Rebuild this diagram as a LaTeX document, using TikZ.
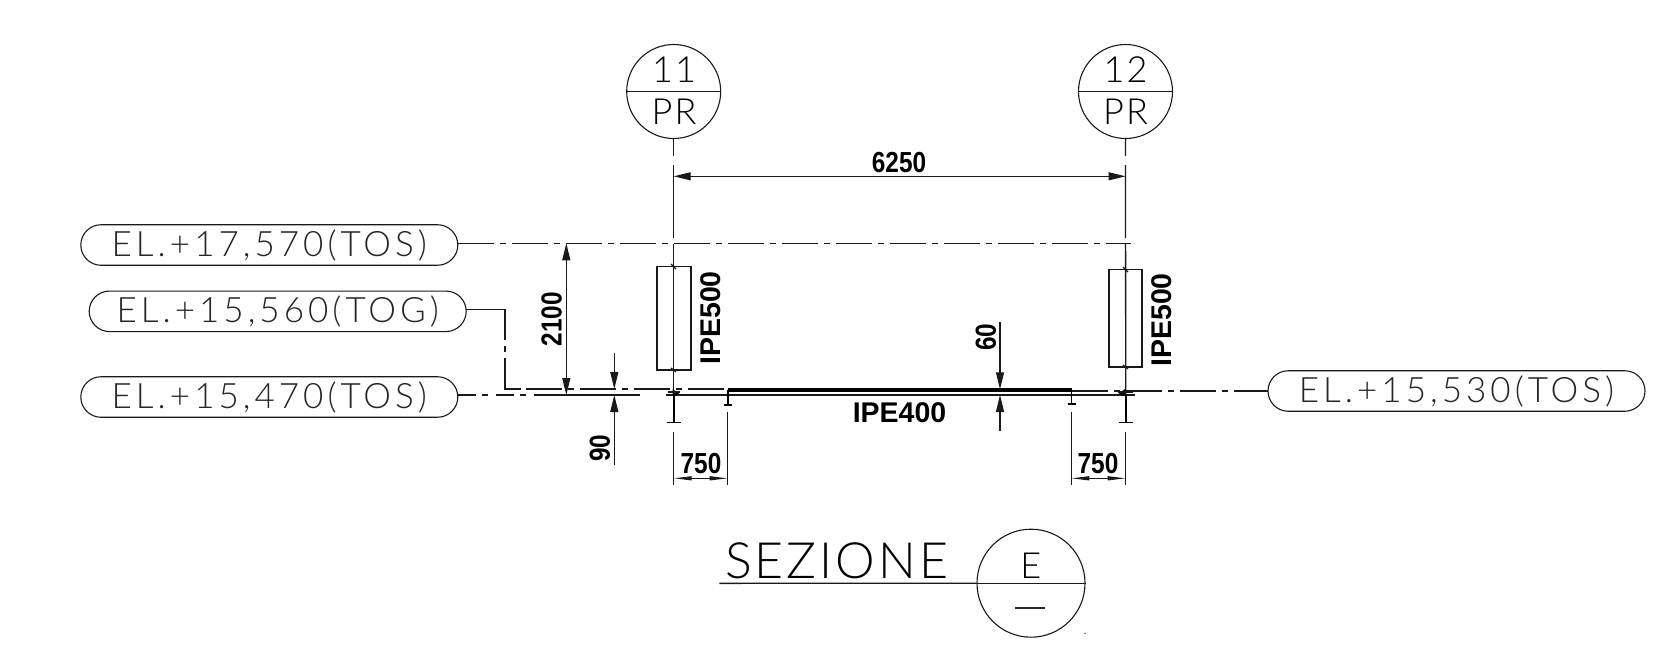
\documentclass[tikz,border=0pt]{standalone}
\usepackage{fontspec}
\usetikzlibrary{arrows.meta,shapes.misc}
\setmainfont{Liberation Sans}
\newfontfamily\thinf[LetterSpace=6]{Lato Light}
\newfontfamily\thinw[LetterSpace=11.5]{Lato Light}
\newfontfamily\boldf{Liberation Sans Bold}
\newcommand{\dimtxt}[1]{\scalebox{0.84}[1]{\fontsize{29}{29}\boldf #1}}
\newcommand{\proftxt}[1]{\scalebox{1.0}[1]{\fontsize{28.5}{28.5}\boldf #1}}
\tikzset{
  ln/.style={line width=1.1pt,color=black!90},
  pill/.style={ln,draw,rounded rectangle,rounded rectangle arc length=180,minimum width=377pt,minimum height=40.5pt,inner sep=0pt,text=black!85,font=\fontsize{35}{35}\thinw},
  gridc/.style={ln,draw,circle,minimum size=94pt,inner sep=0pt},
  gtxt/.style={inner sep=0pt,font=\fontsize{36}{36}\thinf},
  dimhead/.style={-{Triangle[length=17pt,width=8pt]}},
  dimboth/.style={{Triangle[length=17pt,width=8pt]}-{Triangle[length=17pt,width=8pt]}},
  dimin/.style={{Triangle[length=18pt,width=4pt]}-{Triangle[length=18pt,width=4pt]}},
  levelline/.style={ln,dash pattern=on 36pt off 6pt on 6pt off 6pt},
  axisline/.style={ln,line width=1.3pt,dash pattern=on 17pt off 9pt on 73pt off 6pt on 300pt},
  col/.style={ln,line width=1.5pt},
  stem/.style={line width=1.8pt,color=black},
  lab/.style={inner sep=0pt}
}
\begin{document}
\begin{tikzpicture}[x=1pt,y=-1pt]
\useasboundingbox[fill=white] (0,0) rectangle (1663,667);
% grid bubbles
\node[gridc] (g11) at (673.7,91.5) {};
\node[gridc] (g12) at (1125.5,91.5) {};
\draw[ln] (g11.west) -- (g11.east);
\draw[ln] (g12.west) -- (g12.east);
\node[gtxt] (t11) at (674,70) {11};
\node[gtxt] (tp1) at (674,112) {PR};
\node[gtxt] (t12) at (1125.5,70) {12};
\node[gtxt] (tp2) at (1125.5,112) {PR};
% pills
\node[pill] (e1) at (269.3,245) {EL.+17,570(TOS)};
\node[pill] (e2) at (277.7,311.3) {EL.+15,560(TOG)};
\node[pill] (e3) at (269.3,397) {EL.+15,470(TOS)};
\node[pill] (e4) at (1456.5,391) {EL.+15,530(TOS)};
% reference coordinates
\coordinate (a1b) at (673.7,395);
\coordinate (a2b) at (1125.7,395);
\coordinate (top0) at (458,243.3);
\coordinate (top1) at (1130.7,243.3);
\coordinate (b1) at (728,390);
\coordinate (b2) at (1071.5,390);
% axes
\draw[axisline] (g11.south) -- (a1b);
\draw[axisline] (g12.south) -- (a2b);
% levels
\draw[levelline] (top0) -- (top1);
\coordinate (c1) at (505,309.3);
\coordinate (c2) at (505,340);
\coordinate (c3) at (505,389);
\coordinate (c4) at (b1 |- c3);
\draw[ln] (466,309.3) -- (c1) -- (c2);
\draw[ln] (505,346) -- (505,352);
\draw[ln] (505,358) -- (c3) -- (521,389);
\draw[levelline] (526,389) -- (c4);
\coordinate (l3a) at (458,395);
\coordinate (l3b) at (552,395);
\coordinate (l3c) at (640,395);
\coordinate (l3d) at (666,395);
\coordinate (l3e) at (1135,395);
\draw[ln,dash pattern=on 18pt off 6pt on 6pt off 8pt] (l3a) -- (l3b);
\draw[ln] (l3b) -- (l3c);
\draw[ln] (l3d) -- (l3e);
\coordinate (l4a) at (1072,391);
\coordinate (l4b) at (1268,391);
\draw[levelline] (l4a) -- (l4b);
% columns
\draw[col] (655.7,266.7) -- (692.3,266.7) (655.7,370) -- (692.3,370);
\draw[col] (657,266.7) -- (657,370) (691,266.7) -- (691,370);
\draw[col] (1107.7,269.7) -- (1143.3,269.7) (1107.7,367) -- (1143.3,367);
\draw[col] (1109,269.7) -- (1109,367) (1142,269.7) -- (1142,367);
\draw[ln] (671,264) -- (676,269) (671,368) -- (676,372);
\draw[ln] (1123,267) -- (1128,272) (1123,365) -- (1128,369);
% beam
\draw[line width=4pt,color=black] (b1) -- (b2);
\draw[stem,line width=1.4pt] (728,390) -- (728,405) (724,405) -- (732,405);
\draw[stem,line width=1.4pt] (1071.5,390) -- (1071.5,404) (1067.5,404) -- (1075.5,404);
\draw[stem] (a1b) -- (673.7,422.7);
\draw[stem,line width=1.4pt] (666.7,422.7) -- (681,422.7);
\draw[stem] (a2b) -- (1125.7,422.7);
\draw[stem,line width=1.4pt] (1118.5,422.7) -- (1133,422.7);
\fill[black] (672.5,389) -- (681,395) -- (672.5,395) -- cycle;
\fill[black] (1125,389) -- (1117,395) -- (1125,395) -- cycle;
\draw[ln,line width=1.4pt] (668,392) -- (680,392);
\draw[ln,line width=1.4pt] (1118,392) -- (1133,392);
% dimension 6250
\coordinate (d1) at (673.7,176.3);
\coordinate (d2) at (1125.5,176.3);
\draw[ln,dimboth] (d1) -- (d2);
\node[lab] (n6250) at (899,162.3) {\dimtxt{6250}};
% dimension 2100
\coordinate (h1) at (566.3,243.3);
\coordinate (h2) at (566.3,395);
\draw[ln,dimboth] (h1) -- (h2);
\node[lab,rotate=90] (n2100) at (551.7,319) {\dimtxt{2100}};
% dimension 90
\coordinate (n1) at (614.3,352.7);
\coordinate (n2) at (614.3,389);
\coordinate (n3) at (614.3,465);
\coordinate (n4) at (614.3,395);
\draw[ln,dimhead] (n1) -- (n2);
\draw[ln,dimhead] (n3) -- (n4);
\node[lab,rotate=90] (n90) at (600,448) {\dimtxt{90}};
% dimension 60
\coordinate (s1) at (1000,321.7);
\coordinate (s2) at (1000,389.3);
\coordinate (s3) at (1000,430.7);
\coordinate (s4) at (1000,395);
\draw[ln,dimhead] (s1) -- (s2);
\draw[ln,dimhead] (s3) -- (s4);
\node[lab,rotate=90] (n60) at (986,337) {\dimtxt{60}};
% 750 dims
\coordinate (x1a) at (673.7,431.7);
\coordinate (x1b) at (673.7,485);
\coordinate (x2a) at (727.7,412);
\coordinate (x2b) at (727.7,485);
\coordinate (x3a) at (1071.3,412);
\coordinate (x3b) at (1071.3,485);
\coordinate (x4a) at (1125.7,431.7);
\coordinate (x4b) at (1125.7,485);
\draw[ln] (x1a) -- (x1b) (x2a) -- (x2b) (x3a) -- (x3b) (x4a) -- (x4b);
\draw[ln,dimin] (673.7,478.3) -- (727.7,478.3);
\draw[ln,dimin] (1071.3,478.3) -- (1125.7,478.3);
\node[lab] (n750a) at (701,464) {\dimtxt{750}};
\node[lab] (n750b) at (1098,464) {\dimtxt{750}};
% profile labels
\node[lab,rotate=90] (ip1) at (711,318) {\proftxt{IPE500}};
\node[lab,rotate=90] (ip2) at (1162,320) {\proftxt{IPE500}};
\node[lab] (ip3) at (899.5,412.6) {\proftxt{IPE400}};
% title
\node[gridc,minimum size=108pt] (gs) at (1031,583.2) {};
\coordinate (u0) at (719.3,583.3);
\draw[ln,line width=1.4pt] (u0) -- (gs.west);
\draw[ln] (gs.west) -- (gs.east);
\node[lab,font=\fontsize{50}{50}\thinf] (sez) at (836.5,561) {SEZIONE};
\node[lab,font=\fontsize{36}{36}\thinf] (se) at (1030.7,566) {E};
\draw[line width=2.2pt,color=black!85] (1015,608.3) -- (1045,608.3);
\fill[black!70] (1085,633.3) circle (0.8pt);
\end{tikzpicture}
\end{document}
